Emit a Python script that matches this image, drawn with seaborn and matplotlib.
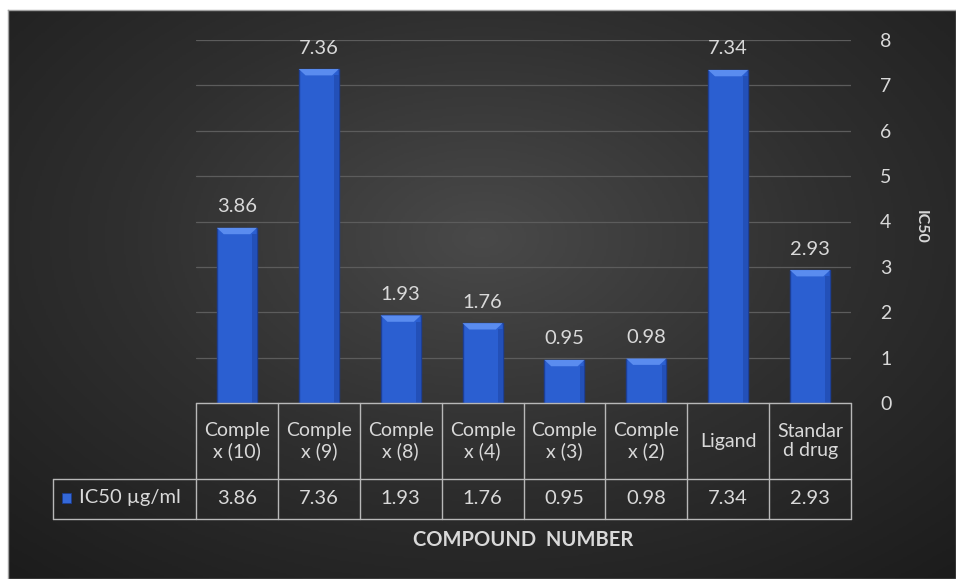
import numpy as np
import matplotlib.pyplot as plt
import seaborn as sns
from matplotlib.colors import LinearSegmentedColormap
from matplotlib.patches import Polygon, Rectangle

# data
compounds = ["Complex (10)", "Complex (9)", "Complex (8)", "Complex (4)",
             "Complex (3)", "Complex (2)", "Ligand", "Standard drug"]
header_labels = ["Comple\nx (10)", "Comple\nx (9)", "Comple\nx (8)", "Comple\nx (4)",
                 "Comple\nx (3)", "Comple\nx (2)", "Ligand", "Standar\nd drug"]
ic50 = [3.86, 7.36, 1.93, 1.76, 0.95, 0.98, 7.34, 2.93]
series_name = "IC50 \u00b5g/ml"
y_ticks = [0, 1, 2, 3, 4, 5, 6, 7, 8]

sns.set_style("dark")
plt.rcParams["font.family"] = ["Lato", "DejaVu Sans"]
txt = "#d9d9d9"

W, H = 956, 579
fig = plt.figure(figsize=(W / 100, H / 100), dpi=100)
fig.patch.set_facecolor("white")

# dark radial background
bg = fig.add_axes([8 / W, 0, (W - 8) / W, (H - 10) / H])
yy, xx = np.mgrid[0:1:300j, 0:1:480j]
r = np.sqrt(((xx - 0.5) / 0.8) ** 2 + ((yy - 0.4) / 0.85) ** 2)
cmap = LinearSegmentedColormap.from_list("bg", ["#494949", "#2f2f2f", "#1c1c1c"])
bg.imshow(np.clip(r, 0, 1), cmap=cmap, aspect="auto", extent=[0, 1, 1, 0])
bg.set_xticks([])
bg.set_yticks([])
for s in bg.spines.values():
    s.set_color("#a0a0a0")
    s.set_linewidth(1)

# main axes
x0, x1, y0, y8 = 196, 851, 403, 40
ax = fig.add_axes([x0 / W, (H - y0) / H, (x1 - x0) / W, (y0 - y8) / H])
ax.set_facecolor("none")
sns.barplot(x=compounds, y=ic50, color="#2b5fd1", saturation=1, width=0.49,
            edgecolor="#1d3f95", linewidth=1, ax=ax, zorder=3)
ax.set_xlim(-0.5, len(compounds) - 0.5)
ax.set_ylim(y_ticks[0], y_ticks[-1])
ax.set_yticks(y_ticks)
ax.yaxis.tick_right()
ax.tick_params(axis="y", length=0, pad=21, labelcolor=txt, labelsize=14)
ax.tick_params(axis="x", length=0, labelbottom=False)
ax.grid(axis="y", color="#5c5c5c", linewidth=0.9, zorder=0)
ax.grid(axis="x", visible=False)
for s in ax.spines.values():
    s.set_visible(False)
ax.set_ylabel("")
ax.set_xlabel("COMPOUND  NUMBER", color=txt, fontsize=14.5, fontweight="bold")
ax.xaxis.set_label_coords(0.5, -(540 - y0) / (y0 - y8))
ax.xaxis.label.set_va("center")

# bevel on bar tops and darker right edge
for p in ax.patches:
    bx, bw, bh = p.get_x(), p.get_width(), p.get_height()
    dx, dy = bw * 0.17, 0.14
    ax.add_patch(Polygon([(bx, bh), (bx + bw, bh), (bx + bw - dx, bh - dy), (bx + dx, bh - dy)],
                         closed=True, facecolor="#5a8cef", edgecolor="none", zorder=4))
    ax.add_patch(Rectangle((bx + bw * 0.88, 0), bw * 0.12, bh - dy,
                           facecolor="#2350b8", edgecolor="none", zorder=4))

ax.bar_label(ax.containers[0], labels=[f"{v:.2f}" for v in ic50], padding=9,
             color=txt, fontsize=14.5)

fig.text(921 / W, 1 - 227 / H, "IC50", rotation=270, ha="center", va="center",
         color=txt, fontsize=11.5, fontweight="bold")

# data table under the axis
to_y = lambda py: -(py - y0) / (y0 - y8)
hdr_bot, tbl_bot = to_y(479), to_y(519)
left_x = (53 - x0) / (x1 - x0) * len(compounds) - 0.5
tr = ax.get_xaxis_transform()
line_kw = dict(color="#b8b8b8", linewidth=1, transform=tr, clip_on=False, zorder=5)
n = len(compounds)
for i in range(n + 1):
    ax.plot([i - 0.5, i - 0.5], [0, tbl_bot], **line_kw)
ax.plot([-0.5, n - 0.5], [0, 0], **line_kw)
ax.plot([left_x, n - 0.5], [hdr_bot, hdr_bot], **line_kw)
ax.plot([left_x, n - 0.5], [tbl_bot, tbl_bot], **line_kw)
ax.plot([left_x, left_x], [hdr_bot, tbl_bot], **line_kw)
for i, (lab, v) in enumerate(zip(header_labels, ic50)):
    ax.text(i, hdr_bot / 2, lab, transform=tr, ha="center", va="center",
            color=txt, fontsize=14, linespacing=1.2)
    ax.text(i, (hdr_bot + tbl_bot) / 2, f"{v:.2f}", transform=tr, ha="center",
            va="center", color=txt, fontsize=14.5)
fig.patches.append(Rectangle((62 / W, 1 - 503 / H), 9 / W, 10 / H, transform=fig.transFigure,
                             facecolor="#3468d8", edgecolor="#1b3c90", linewidth=0.6))
fig.text(79 / W, 1 - 498 / H, series_name, ha="left", va="center", color=txt, fontsize=14.5)

fig.savefig("out.png", dpi=100, facecolor=fig.get_facecolor())
